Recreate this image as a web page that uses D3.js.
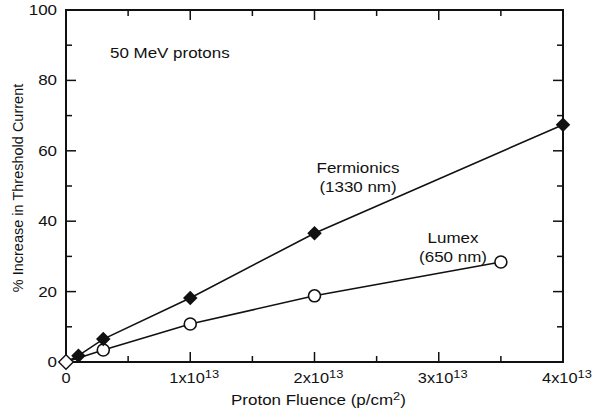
<!DOCTYPE html>
<html>
<head>
<meta charset="utf-8">
<script src="https://cdn.jsdelivr.net/npm/d3@7"></script>
<style>
  body { margin: 0; background: #fff; }
  text { font-family: "Liberation Sans", Arial, sans-serif; fill: #111; }
</style>
</head>
<body>
<script>
// data (fluence in units of 1e13 p/cm2)
var fermiX = [0, 0.1, 0.3, 1.0, 2.0, 4.0];
var fermiY = [0, 1.8, 6.5, 18.2, 36.6, 67.4];
var lumexX = [0, 0.3, 1.0, 2.0, 3.5];
var lumexY = [0, 3.4, 10.8, 18.8, 28.4];
var xTicks = [0, 1, 2, 3, 4];
var yTicks = [0, 20, 40, 60, 80, 100];

var width = 592, height = 414;
var margin = {left: 66, right: 29, top: 10, bottom: 52};
var fs = 14.5;      // font size
var stretch = 1.17; // the scan is a bit wider than tall

var svg = d3.select("body").append("svg")
    .attr("width", width)
    .attr("height", height);

var x = d3.scaleLinear().domain([0, 4]).range([margin.left, width - margin.right]);
var y = d3.scaleLinear().domain([0, 100]).range([height - margin.bottom, margin.top]);

// horizontal text helper, widened a little
function label(px, py, anchor, size) {
  return svg.append("g")
      .attr("transform", "translate(" + px + "," + py + ") scale(" + stretch + ",1)")
    .append("text")
      .attr("text-anchor", anchor)
      .attr("font-size", size || fs);
}

// frame
svg.append("rect")
    .attr("x", x(0)).attr("y", y(100))
    .attr("width", x(4) - x(0)).attr("height", y(0) - y(100))
    .attr("fill", "none").attr("stroke", "#111").attr("stroke-width", 2);

// ticks, all pointing inward
var xMinor = d3.range(0.5, 4, 0.5);
var yMinor = d3.range(10, 100, 10);
function tickLen(v, major) { return major.indexOf(v) >= 0 ? 10 : 6; }

xMinor.forEach(function(v) {
  var l = tickLen(v, xTicks);
  svg.append("line").attr("x1", x(v)).attr("x2", x(v))
     .attr("y1", y(0)).attr("y2", y(0) - l).attr("stroke", "#111").attr("stroke-width", 1.5);
  svg.append("line").attr("x1", x(v)).attr("x2", x(v))
     .attr("y1", y(100)).attr("y2", y(100) + l).attr("stroke", "#111").attr("stroke-width", 1.5);
});
yMinor.forEach(function(v) {
  var l = tickLen(v, yTicks);
  svg.append("line").attr("y1", y(v)).attr("y2", y(v))
     .attr("x1", x(0)).attr("x2", x(0) + l).attr("stroke", "#111").attr("stroke-width", 1.5);
  svg.append("line").attr("y1", y(v)).attr("y2", y(v))
     .attr("x1", x(4)).attr("x2", x(4) - l).attr("stroke", "#111").attr("stroke-width", 1.5);
});

// tick labels
yTicks.forEach(function(d) {
  label(x(0) - 9, y(d) + 5, "end").text(d);
});
xTicks.forEach(function(d) {
  var t = label(x(d) + (d === 0 ? 0 : 4), y(0) + 21, "middle", 14);
  if (d === 0) { t.text("0"); return; }
  t.append("tspan").text(d + "x10");
  t.append("tspan").attr("dy", -5).attr("font-size", 11).text("13");
});

// axis titles
var xt = label((x(0) + x(4)) / 2 + 4, 405, "middle");
xt.append("tspan").text("Proton Fluence (p/cm");
xt.append("tspan").attr("dy", -5).attr("font-size", 11).text("2");
xt.append("tspan").attr("dy", 5).text(")");

svg.append("text")
    .attr("transform", "translate(23," + ((y(0) + y(100)) / 2 + 2) + ") rotate(-90)")
    .attr("text-anchor", "middle").attr("font-size", fs)
    .text("% Increase in Threshold Current");

// annotations
label(110, 58, "start").text("50 MeV protons");
label(358, 173, "middle").text("Fermionics");
label(358, 192, "middle").text("(1330 nm)");
label(453, 243, "middle").text("Lumex");
label(453, 262, "middle").text("(650 nm)");

// series lines
var line = d3.line()
    .x(function(d) { return x(d[0]); })
    .y(function(d) { return y(d[1]); });
var fermi = d3.zip(fermiX, fermiY);
var lumex = d3.zip(lumexX, lumexY);

svg.append("path").datum(fermi).attr("d", line)
    .attr("fill", "none").attr("stroke", "#111").attr("stroke-width", 1.6);
svg.append("path").datum(lumex).attr("d", line)
    .attr("fill", "none").attr("stroke", "#111").attr("stroke-width", 1.6);

// markers
var diamond = d3.symbol().type(d3.symbolSquare).size(105);
svg.selectAll(".lum").data(lumex.slice(1)).enter().append("circle")
    .attr("cx", function(d) { return x(d[0]); })
    .attr("cy", function(d) { return y(d[1]); })
    .attr("r", 6).attr("fill", "#fff").attr("stroke", "#111").attr("stroke-width", 1.6);
svg.selectAll(".fer").data(fermi.slice(1)).enter().append("path")
    .attr("d", diamond)
    .attr("transform", function(d) { return "translate(" + x(d[0]) + "," + y(d[1]) + ") rotate(45)"; })
    .attr("fill", "#111");
// origin point, open diamond
svg.append("path").attr("d", diamond)
    .attr("transform", "translate(" + x(0) + "," + y(0) + ") rotate(45)")
    .attr("fill", "#fff").attr("stroke", "#111").attr("stroke-width", 1.4);
</script>
</body>
</html>
